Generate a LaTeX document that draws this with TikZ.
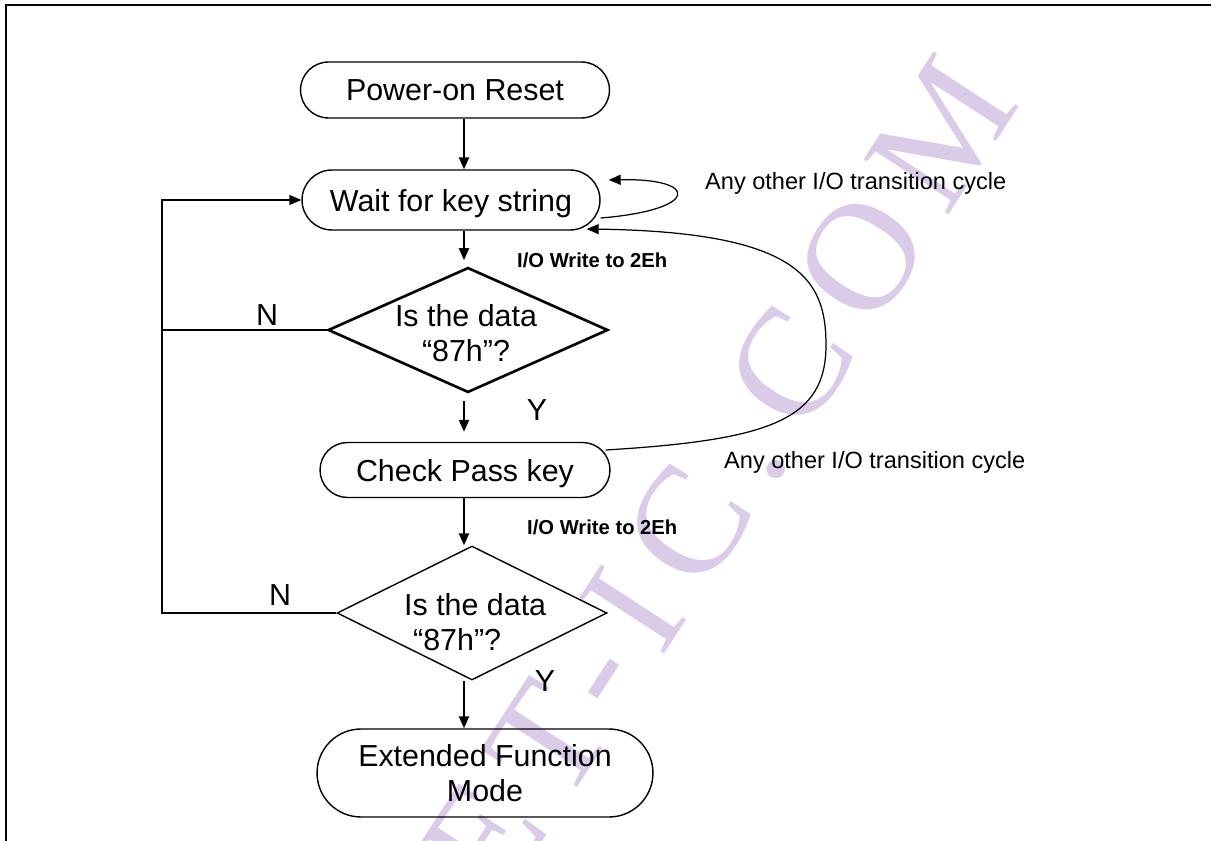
\documentclass[tikz,border=0pt]{standalone}
\usepackage{fontspec}
\setmainfont{Liberation Sans}
\newfontfamily\markfont[LetterSpace=15]{Liberation Serif}
\usetikzlibrary{shapes.misc,shapes.geometric,arrows.meta}
\definecolor{mark}{RGB}{218,203,232}

\begin{document}
\begin{tikzpicture}[x=0.02cm,y=-0.02cm,
  term/.style={rounded rectangle,draw,line width=0.8pt,inner sep=0pt,align=center,text depth=0pt,font=\fontsize{17.3}{19.7}\selectfont},
  decision/.style={diamond,draw,line width=0.8pt,inner sep=0pt},
  big/.style={font=\fontsize{17.3}{19.7}\selectfont},
  note/.style={anchor=west,font=\fontsize{13.4}{16}\selectfont},
  io/.style={anchor=west,font=\bfseries\fontsize{11.5}{14}\selectfont},
  flow/.style={line width=1.2pt,-{Triangle[length=2.4mm,width=2mm]}},
  back/.style={line width=0.8pt},
  cyclearrow/.style={line width=0.7pt,-{Triangle[length=2.4mm,width=2mm]}}]
\useasboundingbox (0,0) rectangle (1211,841);

\node[text=mark,rotate=57,inner sep=0pt,anchor=base east,font=\markfont\fontsize{88}{92}\selectfont] (wm) at (1022,103) {ET-IC.COM};

\draw[line width=1.6pt] (6,841) -- (6,5) -- (1211,5);

\coordinate (axis) at (464,0);
\coordinate (loop) at (162,0);

\node[term,minimum width=6.18cm,minimum height=1.12cm] (por) at (455,90) {Power-on Reset};
\node[term,minimum width=5.96cm,minimum height=1.2cm] (wait) at (451,200) {Wait for key string};
\node[decision,line width=1.5pt,minimum width=5.6cm,minimum height=2.5cm] (d1) at (468,330) {};
\node[big,align=center] (q1) at (466,333) {Is the data\\“87h”?};
\node[term,minimum width=5.8cm,minimum height=1.1cm] (chk) at (465,470) {Check Pass key};
\node[decision,minimum width=5.4cm,minimum height=2.68cm] (d2) at (472,613) {};
\node[big,align=left,anchor=west] (q2) at (398,622) {Is the data\\\hspace*{0.18cm}“87h”?};
\node[term,minimum width=6.72cm,minimum height=1.76cm] (ext) at (485,773) {Extended Function\\Mode};

\draw[flow] (por.south -| axis) -- (wait.north -| axis);
\draw[flow,shorten >=0.12cm] (wait.south -| axis) -- (d1.north -| axis);
\draw[flow,shorten <=0.14cm,shorten >=0.2cm] (d1.south -| axis) -- (chk.north -| axis);
\draw[flow] (chk.south -| axis) -- (d2.north -| axis);
\draw[flow] (d2.south -| axis) -- (ext.north -| axis);

% N branches back to the wait state
\draw[back,-{Triangle[length=2.4mm,width=2mm]}] (d1.west) -- (d1.west -| loop) |- (wait.west);
\draw[back] (d2.west) -- (d2.west -| loop) -- (d1.west -| loop);

% other cycles
\draw[cyclearrow] ([yshift=-0.36cm]wait.east) .. controls (700,210) and (700,178) .. ([xshift=0.16cm,yshift=0.4cm]wait.east);
\draw[cyclearrow] ([xshift=-0.1cm,yshift=0.4cm]chk.east) .. controls (770,440) and (826,420) .. (826,345)
  .. controls (826,280) and (800,232) .. ([xshift=-0.28cm,yshift=-0.58cm]wait.east);

\node[big] (nA) at (267,315) {N};
\node[big] (nB) at (280,595) {N};
\node[big] (yA) at (537,410) {Y};
\node[big] (yB) at (545,681) {Y};
\node[io] (ioA) at (511,260) {I/O Write to 2Eh};
\node[io] (ioB) at (521,527) {I/O Write to 2Eh};
\node[note] (cycA) at (699,183) {Any other I/O transition cycle};
\node[note] (cycB) at (718,462) {Any other I/O transition cycle};
\end{tikzpicture}
\end{document}
